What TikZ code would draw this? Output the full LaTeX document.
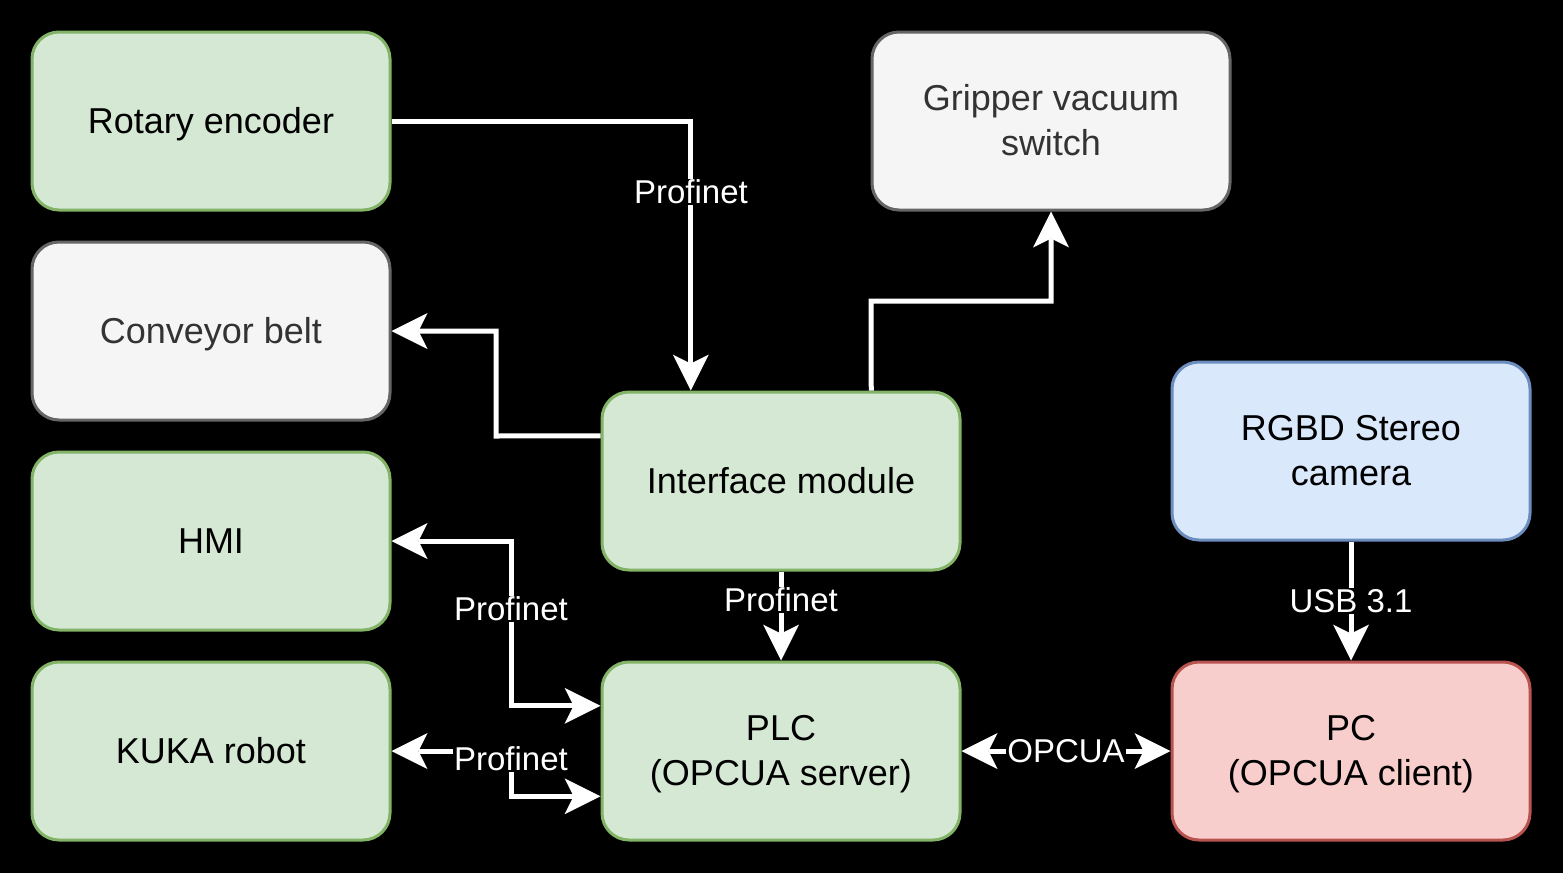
\documentclass[tikz,border=0pt]{standalone}
\usepackage{fontspec}
\setmainfont{Liberation Sans}
\usetikzlibrary{arrows.meta,calc}
\definecolor{gfill}{HTML}{D5E8D4}\definecolor{gline}{HTML}{82B366}
\definecolor{yfill}{HTML}{F5F5F5}\definecolor{yline}{HTML}{666666}\definecolor{ytext}{HTML}{333333}
\definecolor{bfill}{HTML}{DAE8FC}\definecolor{bline}{HTML}{6C8EBF}
\definecolor{rfill}{HTML}{F8CECC}\definecolor{rline}{HTML}{B85450}
\newcommand\stt{\rule[-9pt]{0pt}{42pt}}
\begin{document}
\begin{tikzpicture}[x=1pt,y=-1pt,
  box/.style={rectangle, rounded corners=27pt, minimum width=358pt, minimum height=178pt,
    line width=3pt, inner sep=0pt, align=center, font=\fontsize{36}{45}\selectfont, text=black},
  gbox/.style={box, fill=gfill, draw=gline},
  ybox/.style={box, fill=yfill, draw=yline, text=ytext},
  bbox/.style={box, fill=bfill, draw=bline},
  rbox/.style={box, fill=rfill, draw=rline},
  >={Stealth[length=36pt,width=36pt,inset=9pt,line width=0pt]},
  conn/.style={draw=white, line width=5pt, line join=miter},
  lbl/.style={fill=black, text=white, font=\fontsize{33}{38}\selectfont, inner sep=1pt}
]
\fill[black] (0,0) rectangle (1563,873);
\useasboundingbox (0,0) rectangle (1563,873);

\node[gbox] (rot) at (211,121) {\stt Rotary encoder};
\node[ybox] (conv) at (211,331) {\stt Conveyor belt};
\node[gbox] (hmi) at (211,541) {\stt HMI};
\node[gbox] (kuka) at (211,751) {\stt KUKA robot};
\node[gbox] (im) at (781,481) {\stt Interface module};
\node[gbox] (plc) at (781,751) {\stt PLC\\\stt (OPCUA server)};
\node[ybox] (grip) at (1051,121) {\stt Gripper vacuum\\\stt switch};
\node[bbox] (cam) at (1351,451) {\stt RGBD Stereo\\\stt camera};
\node[rbox] (pc) at (1351,751) {\stt PC\\\stt (OPCUA client)};

\coordinate (imN1) at ($(im.north west)!.25!(im.north east)$);
\coordinate (imN3) at ($(im.north west)!.75!(im.north east)$);
\coordinate (imW1) at ($(im.north west)!.25!(im.south west)$);
\coordinate (plcW1) at ($(plc.north west)!.25!(plc.south west)$);
\coordinate (plcW3) at ($(plc.north west)!.75!(plc.south west)$);

\draw[conn,->] (rot.east) -| (imN1) node[lbl] at (691,192) {Profinet};
\draw[conn,->] (imW1) -- (496,436) |- (conv.east);
\draw[conn,->] (imN3) -- (871,301) -| (grip.south);
\draw[conn,->] (im.south) -- (plc.north) node[lbl] at (781,600) {Profinet};
\draw[conn,<->] (hmi.east) -- (511,541) |- (plcW1) node[lbl] at (511,609) {Profinet};
\draw[conn,<->] (kuka.east) -- (511,751) |- (plcW3) node[lbl] at (511,759) {Profinet};
\draw[conn,<->] (plc.east) -- (pc.west) node[lbl] at (1066,751) {OPCUA};
\draw[conn,->] (cam.south) -- (pc.north) node[lbl] at (1351,601) {USB 3.1};
\end{tikzpicture}
\end{document}
